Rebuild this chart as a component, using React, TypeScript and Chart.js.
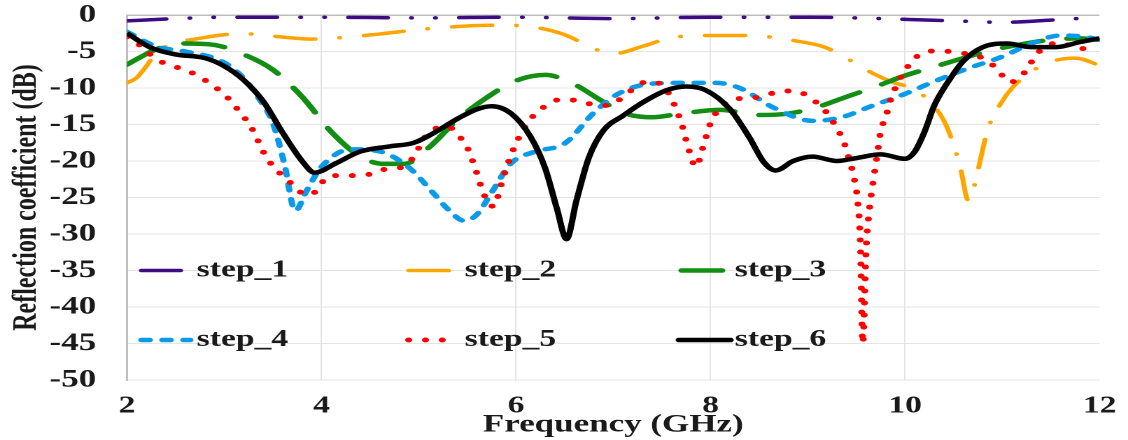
import { useEffect, useRef } from 'react';
import { Chart, registerables } from 'chart.js';

Chart.register(...registerables);

// ---------- data ----------
const seriesNames = ['step_1', 'step_2', 'step_3', 'step_4', 'step_5', 'step_6'];
const xTickValues = [2, 4, 6, 8, 10, 12];
const yTickValues = [0, -5, -10, -15, -20, -25, -30, -35, -40, -45, -50];

const step1Freq = [2, 2.5, 3, 4, 5, 6, 7, 8, 9, 9.5, 10, 10.5, 11, 11.5, 12];
const step1Db = [-0.8, -0.5, -0.3, -0.3, -0.4, -0.3, -0.5, -0.3, -0.3, -0.4, -0.6, -0.8, -1.0, -0.7, -0.3];

const step2Freq = [2, 2.1, 2.2, 2.3, 2.45, 2.7, 3.0, 3.25, 3.5, 3.9, 4.2, 4.6, 5.0, 5.5, 5.9, 6.2, 6.5, 6.8, 7.0, 7.3, 7.6, 8.0, 8.3, 8.6, 8.9, 9.15, 9.35, 9.52, 9.7, 9.87, 10.08, 10.25, 10.4, 10.5, 10.57, 10.65, 10.72, 10.78, 10.85, 10.98, 11.1, 11.25, 11.5, 11.75, 12];
const step2Db = [-9.3, -8.6, -7.0, -5.2, -4.0, -3.3, -2.7, -2.6, -2.9, -3.3, -3.1, -2.6, -2.0, -1.5, -1.4, -1.7, -2.7, -4.6, -5.3, -4.3, -3.1, -2.8, -2.8, -3.0, -3.6, -4.3, -5.5, -6.9, -8.2, -9.2, -10.1, -11.8, -14.5, -17.8, -21.0, -25.4, -23.0, -19.5, -15.7, -12.2, -10.0, -8.2, -6.4, -5.9, -6.9];

const step3Freq = [2, 2.15, 2.3, 2.6, 2.9, 3.2, 3.5, 3.8, 4.1, 4.4, 4.65, 4.85, 5.1, 5.4, 5.7, 6.0, 6.3, 6.6, 6.85, 7.1, 7.4, 7.7, 8.1, 8.5, 8.8, 9.1, 9.4, 9.7, 10.0, 10.3, 10.6, 10.9, 11.2, 11.5, 11.8, 12];
const step3Db = [-6.8, -5.7, -4.7, -3.9, -4.1, -5.4, -7.5, -11.2, -16.0, -19.4, -20.4, -20.4, -18.2, -14.3, -11.3, -9.0, -8.2, -9.5, -11.5, -13.4, -14.0, -13.5, -13.0, -13.7, -13.5, -12.6, -11.2, -9.8, -8.3, -7.1, -5.9, -4.8, -4.0, -3.4, -3.2, -3.4];

const step4Freq = [2, 2.3, 2.6, 2.95, 3.15, 3.35, 3.5, 3.62, 3.73, 3.85, 4.0, 4.3, 4.6, 4.9, 5.15, 5.3, 5.47, 5.6, 5.75, 5.95, 6.2, 6.5, 6.8, 7.05, 7.4, 7.75, 8.05, 8.3, 8.65, 9.05, 9.35, 9.65, 10.0, 10.3, 10.65, 11.0, 11.3, 11.6, 11.85, 12];
const step4Db = [-2.3, -4.3, -5.0, -6.2, -8.0, -11.3, -14.8, -20.5, -26.8, -24.0, -20.8, -18.4, -18.7, -20.9, -24.4, -26.6, -28.2, -27.3, -24.3, -20.3, -18.7, -17.6, -13.4, -10.8, -9.4, -9.3, -9.3, -10.0, -12.7, -14.5, -14.0, -12.5, -10.8, -9.1, -7.3, -5.7, -3.9, -2.8, -3.0, -3.4];

const step5Freq = [2, 2.1, 2.22, 2.35, 2.5, 2.65, 2.8, 2.92, 3.04, 3.13, 3.21, 3.3, 3.4, 3.5, 3.6, 3.7, 3.8, 3.9, 3.98, 4.1, 4.3, 4.5, 4.6, 4.75, 4.9, 4.98, 5.05, 5.15, 5.3, 5.4, 5.5, 5.58, 5.66, 5.72, 5.78, 5.83, 5.9, 6.0, 6.1, 6.2, 6.3, 6.45, 6.62, 6.8, 6.96, 7.1, 7.22, 7.35, 7.5, 7.6, 7.7, 7.78, 7.85, 7.92, 8.0, 8.08, 8.2, 8.35, 8.52, 8.7, 8.87, 9.02, 9.14, 9.23, 9.3, 9.36, 9.42, 9.47, 9.51, 9.54, 9.565, 9.6, 9.63, 9.67, 9.71, 9.75, 9.8, 9.86, 9.93, 10.0, 10.08, 10.2, 10.37, 10.55, 10.72, 10.87, 10.97, 11.07, 11.19, 11.28, 11.38, 11.5, 11.62, 11.75, 11.9, 12];
const step5Db = [-3.0, -3.8, -5.2, -6.4, -7.1, -7.8, -8.9, -10.0, -11.4, -12.8, -14.1, -15.9, -18.7, -20.7, -22.0, -23.2, -24.4, -24.6, -23.3, -22.0, -22.0, -21.8, -21.2, -21.1, -20.2, -18.7, -17.0, -15.7, -15.3, -16.4, -18.2, -21.0, -24.2, -25.9, -26.2, -24.0, -21.0, -17.6, -15.2, -13.5, -12.5, -11.6, -11.7, -12.3, -12.4, -11.2, -10.0, -9.1, -9.6, -11.5, -14.8, -18.6, -20.8, -18.2, -14.8, -13.0, -11.7, -11.4, -11.2, -10.5, -10.4, -11.3, -12.6, -14.0, -15.6, -17.0, -19.5, -22.0, -25.2, -31.0, -45.0, -32.0, -27.0, -23.0, -19.5, -15.9, -14.0, -11.3, -9.2, -7.6, -6.2, -5.1, -4.9, -5.2, -5.5, -6.5, -7.8, -9.2, -8.5, -6.8, -5.0, -4.0, -3.8, -4.6, -4.6, -4.5];

const step6Freq = [2, 2.25, 2.5, 2.8, 3.0, 3.2, 3.4, 3.6, 3.8, 3.93, 4.15, 4.4, 4.7, 4.95, 5.15, 5.4, 5.6, 5.75, 5.95, 6.15, 6.3, 6.42, 6.52, 6.62, 6.75, 6.9, 7.1, 7.3, 7.55, 7.75, 7.95, 8.2, 8.4, 8.55, 8.67, 8.85, 9.05, 9.3, 9.5, 9.75, 10.0, 10.1, 10.2, 10.3, 10.45, 10.6, 10.8, 11.05, 11.3, 11.55, 11.8, 12];
const step6Db = [-2.5, -4.5, -5.4, -5.9, -7.0, -8.9, -11.8, -16.1, -20.0, -21.6, -20.3, -18.7, -18.0, -17.5, -16.2, -14.2, -12.9, -12.5, -13.5, -16.7, -21.0, -26.5, -30.7, -25.5, -19.5, -15.8, -13.8, -12.0, -10.3, -9.8, -10.3, -12.9, -16.8, -20.2, -21.3, -20.0, -19.4, -20.0, -19.6, -19.1, -19.7, -18.7, -16.0, -12.4, -9.0, -6.3, -4.4, -3.9, -4.4, -4.4, -3.7, -3.2];

const allFreq = [step1Freq, step2Freq, step3Freq, step4Freq, step5Freq, step6Freq];
const allDb = [step1Db, step2Db, step3Db, step4Db, step5Db, step6Db];

// ---------- styles ----------
const STYLES = [
  { color: '#3D0B82', width: 3.5, dash: [28, 17, 0.1, 17, 0.1, 17] },
  { color: '#FFA500', width: 3.5, dash: [28.5, 17.5, 0.1, 17.5] },
  { color: '#128E12', width: 4.5, dash: [29, 18] },
  { color: '#0A9AE8', width: 4.5, dash: [6, 9] },
  { color: '#FF0000', width: 5, dash: [0, 12] },
  { color: '#000000', width: 4.5, dash: [] as number[] },
];

const FONT_FAMILY = "'Liberation Serif', 'Times New Roman', serif";
const TEXT_COLOR = '#1a1a1a';
const LOGICAL_W = 806; // drawn narrower, then stretched horizontally to 1128
const OUT_W = 1128;
const OUT_H = 440;

// legend layout (logical coordinates)
const LEGEND_ROWS = [270.5, 340];
const LEGEND_COLS = [
  { x1: 101, x2: 131, tx: 140.5 },
  { x1: 292, x2: 322, tx: 332 },
  { x1: 487, x2: 517, tx: 525 },
];
const LEGEND_COLS_ROW2 = [
  { x1: 101, x2: 136, tx: 140.5 },
  { x1: 292, x2: 322, tx: 332 },
  { x1: 485, x2: 522, tx: 525 },
];

const legendPlugin = {
  id: 'inPlotLegend',
  afterDraw(chart: any) {
    const ctx = chart.ctx as CanvasRenderingContext2D;
    seriesNames.forEach((name, i) => {
      const row = Math.floor(i / 3);
      const col = i % 3;
      const c = row === 0 ? LEGEND_COLS[col] : LEGEND_COLS_ROW2[col];
      const y = LEGEND_ROWS[row];
      const st = STYLES[i];
      ctx.save();
      ctx.strokeStyle = st.color;
      ctx.lineWidth = st.width;
      ctx.lineCap = 'round';
      ctx.setLineDash(st.dash);
      ctx.beginPath();
      ctx.moveTo(c.x1, y);
      ctx.lineTo(c.x2, y);
      ctx.stroke();
      ctx.setLineDash([]);
      ctx.fillStyle = TEXT_COLOR;
      ctx.font = `bold 24px ${FONT_FAMILY}`;
      ctx.textAlign = 'left';
      ctx.textBaseline = 'middle';
      ctx.fillText(name, c.tx, y);
      ctx.restore();
    });
  },
};

export default function App() {
  const canvasRef = useRef<HTMLCanvasElement | null>(null);

  useEffect(() => {
    const canvas = canvasRef.current;
    if (!canvas) return;

    const datasets = seriesNames.map((name, i) => ({
      label: name,
      data: allFreq[i].map((f, k) => ({ x: f, y: allDb[i][k] })),
      borderColor: STYLES[i].color,
      backgroundColor: STYLES[i].color,
      borderWidth: STYLES[i].width,
      borderDash: STYLES[i].dash,
      borderCapStyle: i === 5 ? 'butt' : 'round',
      borderJoinStyle: 'round',
      cubicInterpolationMode: 'monotone',
      pointRadius: 0,
      fill: false,
      order: 5 - i,
    }));

    const chart = new Chart(canvas, {
      type: 'line',
      data: { datasets } as any,
      plugins: [legendPlugin],
      options: {
        animation: false,
        responsive: false,
        devicePixelRatio: 2,
        events: [],
        layout: { padding: { left: 0, right: 20.3, top: 15, bottom: 0 } },
        plugins: {
          legend: { display: false },
          tooltip: { enabled: false },
        },
        scales: {
          x: {
            type: 'linear',
            min: 2,
            max: 12,
            afterBuildTicks: (scale: any) => {
              scale.ticks = xTickValues.map((v) => ({ value: v }));
            },
            ticks: {
              padding: 12,
              maxRotation: 0,
              autoSkip: false,
              color: TEXT_COLOR,
              font: { family: FONT_FAMILY, size: 24, weight: 'bold' },
              callback: (v: any) => String(v),
            },
            grid: {
              drawTicks: false,
              lineWidth: 1,
              color: (c: any) => (c.tick && (c.tick.value === 12 || c.tick.value === 2) ? 'rgba(0,0,0,0)' : '#E4E4E4'),
            },
            border: { display: false },
            title: {
              display: true,
              text: 'Frequency (GHz)',
              color: TEXT_COLOR,
              font: { family: FONT_FAMILY, size: 25, weight: 'bold' },
              padding: { top: 0, bottom: 0 },
            },
            afterFit: (scale: any) => {
              scale.height = 60;
              scale.paddingLeft = 0;
              scale.paddingRight = 0;
              scale.paddingTop = 0;
              scale.paddingBottom = 0;
            },
          },
          y: {
            type: 'linear',
            min: -50,
            max: 0,
            afterBuildTicks: (scale: any) => {
              scale.ticks = yTickValues.map((v) => ({ value: v }));
            },
            ticks: {
              padding: 22,
              autoSkip: false,
              color: TEXT_COLOR,
              font: { family: FONT_FAMILY, size: 25, weight: 'bold' },
              callback: (v: any) => String(v),
            },
            grid: {
              drawTicks: false,
              lineWidth: (c: any) => (c.tick && c.tick.value === 0 ? 1.5 : 1),
              color: (c: any) => (c.tick && c.tick.value === 0 ? '#BDBDBD' : '#E4E4E4'),
            },
            border: { display: true, color: '#BDBDBD', width: 1.5 },
            title: {
              display: true,
              text: 'Reflection coefficient (dB)',
              color: TEXT_COLOR,
              font: { family: FONT_FAMILY, size: 24, weight: 'bold' },
              padding: { top: 5, bottom: 0 },
            },
            afterFit: (scale: any) => {
              scale.width = 90.7;
              scale.paddingLeft = 0;
              scale.paddingRight = 0;
              scale.paddingTop = 0;
              scale.paddingBottom = 0;
            },
          },
        },
      } as any,
    });

    return () => {
      chart.destroy();
    };
  }, []);

  return (
    <div style={{ position: 'absolute', left: 0, top: 0, width: OUT_W, height: OUT_H, background: '#ffffff' }}>
      <canvas
        ref={canvasRef}
        width={LOGICAL_W}
        height={OUT_H}
        style={{ display: 'block', width: `${OUT_W}px`, height: `${OUT_H}px` }}
      />
    </div>
  );
}
